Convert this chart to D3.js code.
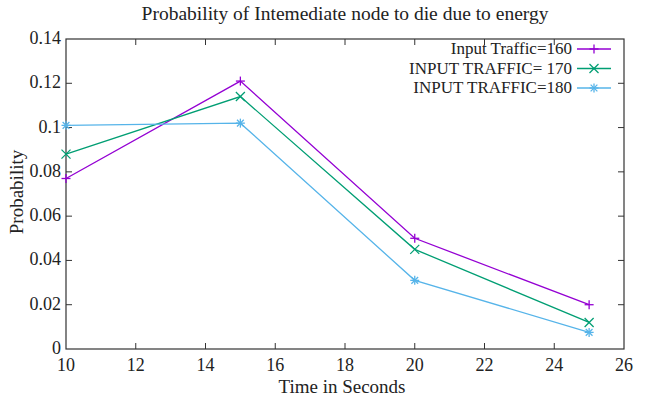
<!DOCTYPE html>
<html>
<head>
<meta charset="utf-8">
<script src="https://cdn.jsdelivr.net/npm/d3@7"></script>
<style>
  body { margin: 0; background: #fff; }
  svg text { font-family: "Liberation Serif", "Times New Roman", serif; fill: #222; }
</style>
</head>
<body>
<div id="chart"></div>
<script>
// data
var times = [10, 15, 20, 25];
var traffic160 = [0.077, 0.121, 0.050, 0.020];
var traffic170 = [0.088, 0.114, 0.045, 0.012];
var traffic180 = [0.101, 0.102, 0.031, 0.0075];
var seriesNames = ["Input Traffic=160", "INPUT TRAFFIC= 170", "INPUT TRAFFIC=180"];
var xTicks = [10, 12, 14, 16, 18, 20, 22, 24, 26];
var yTicks = [0, 0.02, 0.04, 0.06, 0.08, 0.1, 0.12, 0.14];

var colors = ["#9400d3", "#009e73", "#56b4e9"];
var symbols = ["plus", "cross", "star"];

var margin = { top: 39, right: 27, bottom: 47, left: 66 },
    width = 651 - margin.left - margin.right,
    height = 396 - margin.top - margin.bottom;

var svgRoot = d3.select("#chart")
    .append("svg")
    .attr("width", 651)
    .attr("height", 396)
    .style("font-family", "'Liberation Serif', serif");

var svg = svgRoot.append("g")
    .attr("transform", "translate(" + margin.left + "," + margin.top + ")");

var x = d3.scaleLinear().domain([10, 26]).range([0, width]);
var y = d3.scaleLinear().domain([0, 0.14]).range([height, 0]);

// ticks (inside, mirrored)
var tickLen = 6;
svg.append("g").selectAll("line.xb").data(xTicks.slice(1, -1)).enter().append("line")
    .attr("x1", d => x(d)).attr("x2", d => x(d))
    .attr("y1", height).attr("y2", height - tickLen)
    .attr("stroke", "#333").attr("stroke-width", 1);
svg.append("g").selectAll("line.xt").data(xTicks.slice(1, -1)).enter().append("line")
    .attr("x1", d => x(d)).attr("x2", d => x(d))
    .attr("y1", 0).attr("y2", tickLen)
    .attr("stroke", "#333").attr("stroke-width", 1);
svg.append("g").selectAll("line.yl").data(yTicks.slice(1, -1)).enter().append("line")
    .attr("x1", 0).attr("x2", tickLen)
    .attr("y1", d => y(d)).attr("y2", d => y(d))
    .attr("stroke", "#333").attr("stroke-width", 1);
svg.append("g").selectAll("line.yr").data(yTicks.slice(1, -1)).enter().append("line")
    .attr("x1", width).attr("x2", width - tickLen)
    .attr("y1", d => y(d)).attr("y2", d => y(d))
    .attr("stroke", "#333").attr("stroke-width", 1);

// frame
svg.append("rect")
    .attr("x", 0).attr("y", 0)
    .attr("width", width).attr("height", height)
    .attr("fill", "none")
    .attr("stroke", "#333")
    .attr("stroke-width", 1.2);

// tick labels
svg.append("g").selectAll("text").data(xTicks).enter().append("text")
    .attr("x", d => x(d))
    .attr("y", height + 22)
    .attr("text-anchor", "middle")
    .style("font-size", "18px")
    .text(d => d);
svg.append("g").selectAll("text").data(yTicks).enter().append("text")
    .attr("x", -5)
    .attr("y", d => y(d) + 5)
    .attr("text-anchor", "end")
    .style("font-size", "18px")
    .text(d => d);

// titles
svgRoot.append("text")
    .attr("x", 345).attr("y", 20)
    .attr("text-anchor", "middle")
    .style("font-size", "19.5px")
    .text("Probability of Intemediate node to die due to energy");
svgRoot.append("text")
    .attr("x", 342).attr("y", 393)
    .attr("text-anchor", "middle")
    .style("font-size", "19px")
    .text("Time in Seconds");
svgRoot.append("text")
    .attr("transform", "translate(23,192) rotate(-90)")
    .attr("text-anchor", "middle")
    .style("font-size", "19px")
    .text("Probability");

function marker(g, kind, cx, cy, color) {
    var s = 4.5;
    var p = [];
    if (kind === "plus" || kind === "star") {
        p.push([cx - s, cy, cx + s, cy], [cx, cy - s, cx, cy + s]);
    }
    if (kind === "cross" || kind === "star") {
        var t = kind === "star" ? s * 0.75 : s;
        p.push([cx - t, cy - t, cx + t, cy + t], [cx - t, cy + t, cx + t, cy - t]);
    }
    p.forEach(function (l) {
        g.append("line")
            .attr("x1", l[0]).attr("y1", l[1]).attr("x2", l[2]).attr("y2", l[3])
            .attr("stroke", color).attr("stroke-width", 1.3);
    });
}

var allSeries = [traffic160, traffic170, traffic180];
var line = d3.line()
    .x(function (d, i) { return x(times[i]); })
    .y(function (d) { return y(d); });

allSeries.forEach(function (vals, k) {
    svg.append("path")
        .datum(vals)
        .attr("fill", "none")
        .attr("stroke", colors[k])
        .attr("stroke-width", 1.3)
        .attr("d", line);
    var g = svg.append("g");
    vals.forEach(function (v, i) {
        marker(g, symbols[k], x(times[i]), y(v), colors[k]);
    });
});

// legend
var legend = svgRoot.append("g");
seriesNames.forEach(function (name, k) {
    var ly = 49 + k * 19.5;
    legend.append("text")
        .attr("x", 572).attr("y", ly + 5)
        .attr("text-anchor", "end")
        .style("font-size", "17px")
        .text(name);
    legend.append("line")
        .attr("x1", 577).attr("x2", 611)
        .attr("y1", ly).attr("y2", ly)
        .attr("stroke", colors[k]).attr("stroke-width", 1.3);
    marker(legend, symbols[k], 594, ly, colors[k]);
});
</script>
</body>
</html>
